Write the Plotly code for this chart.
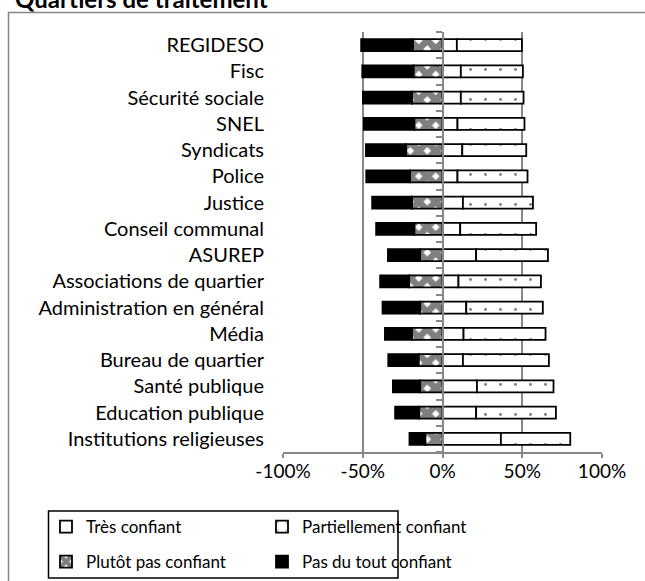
import plotly.graph_objects as go

categories = ["REGIDESO", "Fisc", "Sécurité sociale", "SNEL", "Syndicats", "Police",
              "Justice", "Conseil communal", "ASUREP", "Associations de quartier",
              "Administration en général", "Média", "Bureau de quartier",
              "Santé publique", "Education publique", "Institutions religieuses"]
tres_confiant = [9.0, 11.5, 11.5, 9.4, 12.4, 9.4, 12.8, 11.1, 21.1, 10.0, 14.9, 13.2, 12.8, 21.6, 21.1, 36.6]
partiellement = [40.8, 38.9, 39.3, 42.0, 40.1, 43.9, 43.9, 47.6, 45.0, 51.7, 48.0, 51.4, 53.9, 48.0, 50.0, 43.5]
plutot_pas = [18.6, 18.2, 19.2, 17.7, 22.8, 20.3, 19.2, 17.7, 14.0, 20.9, 14.0, 19.2, 15.0, 14.0, 14.6, 10.8]
pas_du_tout = [32.4, 32.1, 30.7, 31.6, 25.2, 27.5, 24.9, 23.9, 20.2, 18.2, 23.6, 16.9, 19.0, 17.1, 15.1, 9.9]
x_ticks = [-100, -50, 0, 50, 100]
x_tick_labels = ["-100%", "-50%", "0%", "50%", "100%"]

FONT = "Lato"
FS_Y = 20
FS_X = 19
FS_LEG = 17
GRAY = "#878787"
W, H = 645, 581
L, R, T, B = 283, 43, 32, 129
PW, PH = W - L - R, H - T - B

def px(xp):
    return (xp - L) / PW

def py(yp):
    return (H - B - yp) / PH

line = dict(color="black", width=1.8)
fig = go.Figure()
fig.add_trace(go.Bar(y=categories, x=tres_confiant, orientation="h", name="Très confiant",
                     marker=dict(color="white", line=line), legend="legend"))
fig.add_trace(go.Bar(y=categories, x=partiellement, orientation="h", name="Partiellement confiant",
                     marker=dict(color="white", line=line,
                                 pattern=dict(shape=".", fgcolor="black", bgcolor="white",
                                              size=15, solidity=0.03)), legend="legend"))
fig.add_trace(go.Bar(y=categories, x=[-v for v in plutot_pas], orientation="h", name="Plutôt pas confiant",
                     marker=dict(color="white", line=line,
                                 pattern=dict(shape="x", fgcolor="black", bgcolor="white",
                                              size=12, solidity=0.8)), legend="legend2"))
fig.add_trace(go.Bar(y=categories, x=[-v for v in pas_du_tout], orientation="h", name="Pas du tout confiant",
                     marker=dict(color="black", line=line), legend="legend2"))
# helper trace for the zero axis with boundary ticks
fig.add_trace(go.Scatter(x=[0], y=[0], yaxis="y2", mode="markers", marker=dict(opacity=0),
                         showlegend=False, hoverinfo="skip"))

n = len(categories)
leg_common = dict(orientation="h", xref="paper", yref="paper", xanchor="left", yanchor="middle",
                  entrywidth=171, entrywidthmode="pixels", bgcolor="rgba(0,0,0,0)",
                  font=dict(family=FONT, size=FS_LEG, color="black"), traceorder="normal")
fig.update_layout(
    width=W, height=H,
    margin=dict(l=L, r=R, t=T, b=B, autoexpand=False),
    paper_bgcolor="white", plot_bgcolor="white",
    barmode="relative", bargap=0.55,
    font=dict(family=FONT, size=FS_Y, color="black"),
    title=dict(text="Quartiers de traitement", font=dict(family=FONT, size=24, weight="bold", color="black"),
               x=15 / W, xanchor="left", xref="container", y=1.0, yanchor="middle", yref="container"),
    xaxis=dict(range=[-100, 100], tickvals=x_ticks, ticktext=x_tick_labels,
               showgrid=True, gridcolor=GRAY, gridwidth=1.5, zeroline=False,
               showline=True, linecolor=GRAY, linewidth=1.5,
               ticks="outside", ticklen=4, tickcolor=GRAY, tickwidth=1.5,
               ticklabelstandoff=-3, tickfont=dict(family=FONT, size=FS_X, color="black")),
    yaxis=dict(type="category", categoryorder="array", categoryarray=categories,
               range=[n - 0.5, -0.5], showgrid=False, showline=False, zeroline=False,
               ticks="", ticklabelstandoff=18, tickfont=dict(family=FONT, size=FS_Y, color="black")),
    yaxis2=dict(overlaying="y", anchor="free", position=0.5, side="left",
                range=[n - 0.5, -0.5], tickvals=[i - 0.5 for i in range(n + 1)],
                ticks="outside", ticklen=6, tickcolor=GRAY, tickwidth=1.5,
                showticklabels=False, showline=True, linecolor=GRAY, linewidth=1.5,
                showgrid=False, zeroline=False),
    legend=dict(leg_common, x=px(46), y=py(527)),
    legend2=dict(leg_common, x=px(46), y=py(562)),
    shapes=[
        dict(type="rect", xref="paper", yref="paper", x0=px(8.5), x1=px(650), y0=py(12.5), y1=py(600),
             line=dict(color=GRAY, width=1.5), fillcolor="rgba(0,0,0,0)", layer="below"),
        dict(type="rect", xref="paper", yref="paper", x0=px(48.5), x1=px(398), y0=py(511), y1=py(578),
             line=dict(color="black", width=1.5), fillcolor="rgba(0,0,0,0)", layer="below"),
    ],
    showlegend=True,
)

fig.write_html("out.html", config={"displayModeBar": False},
               post_script="document.body.style.margin='0px';")
